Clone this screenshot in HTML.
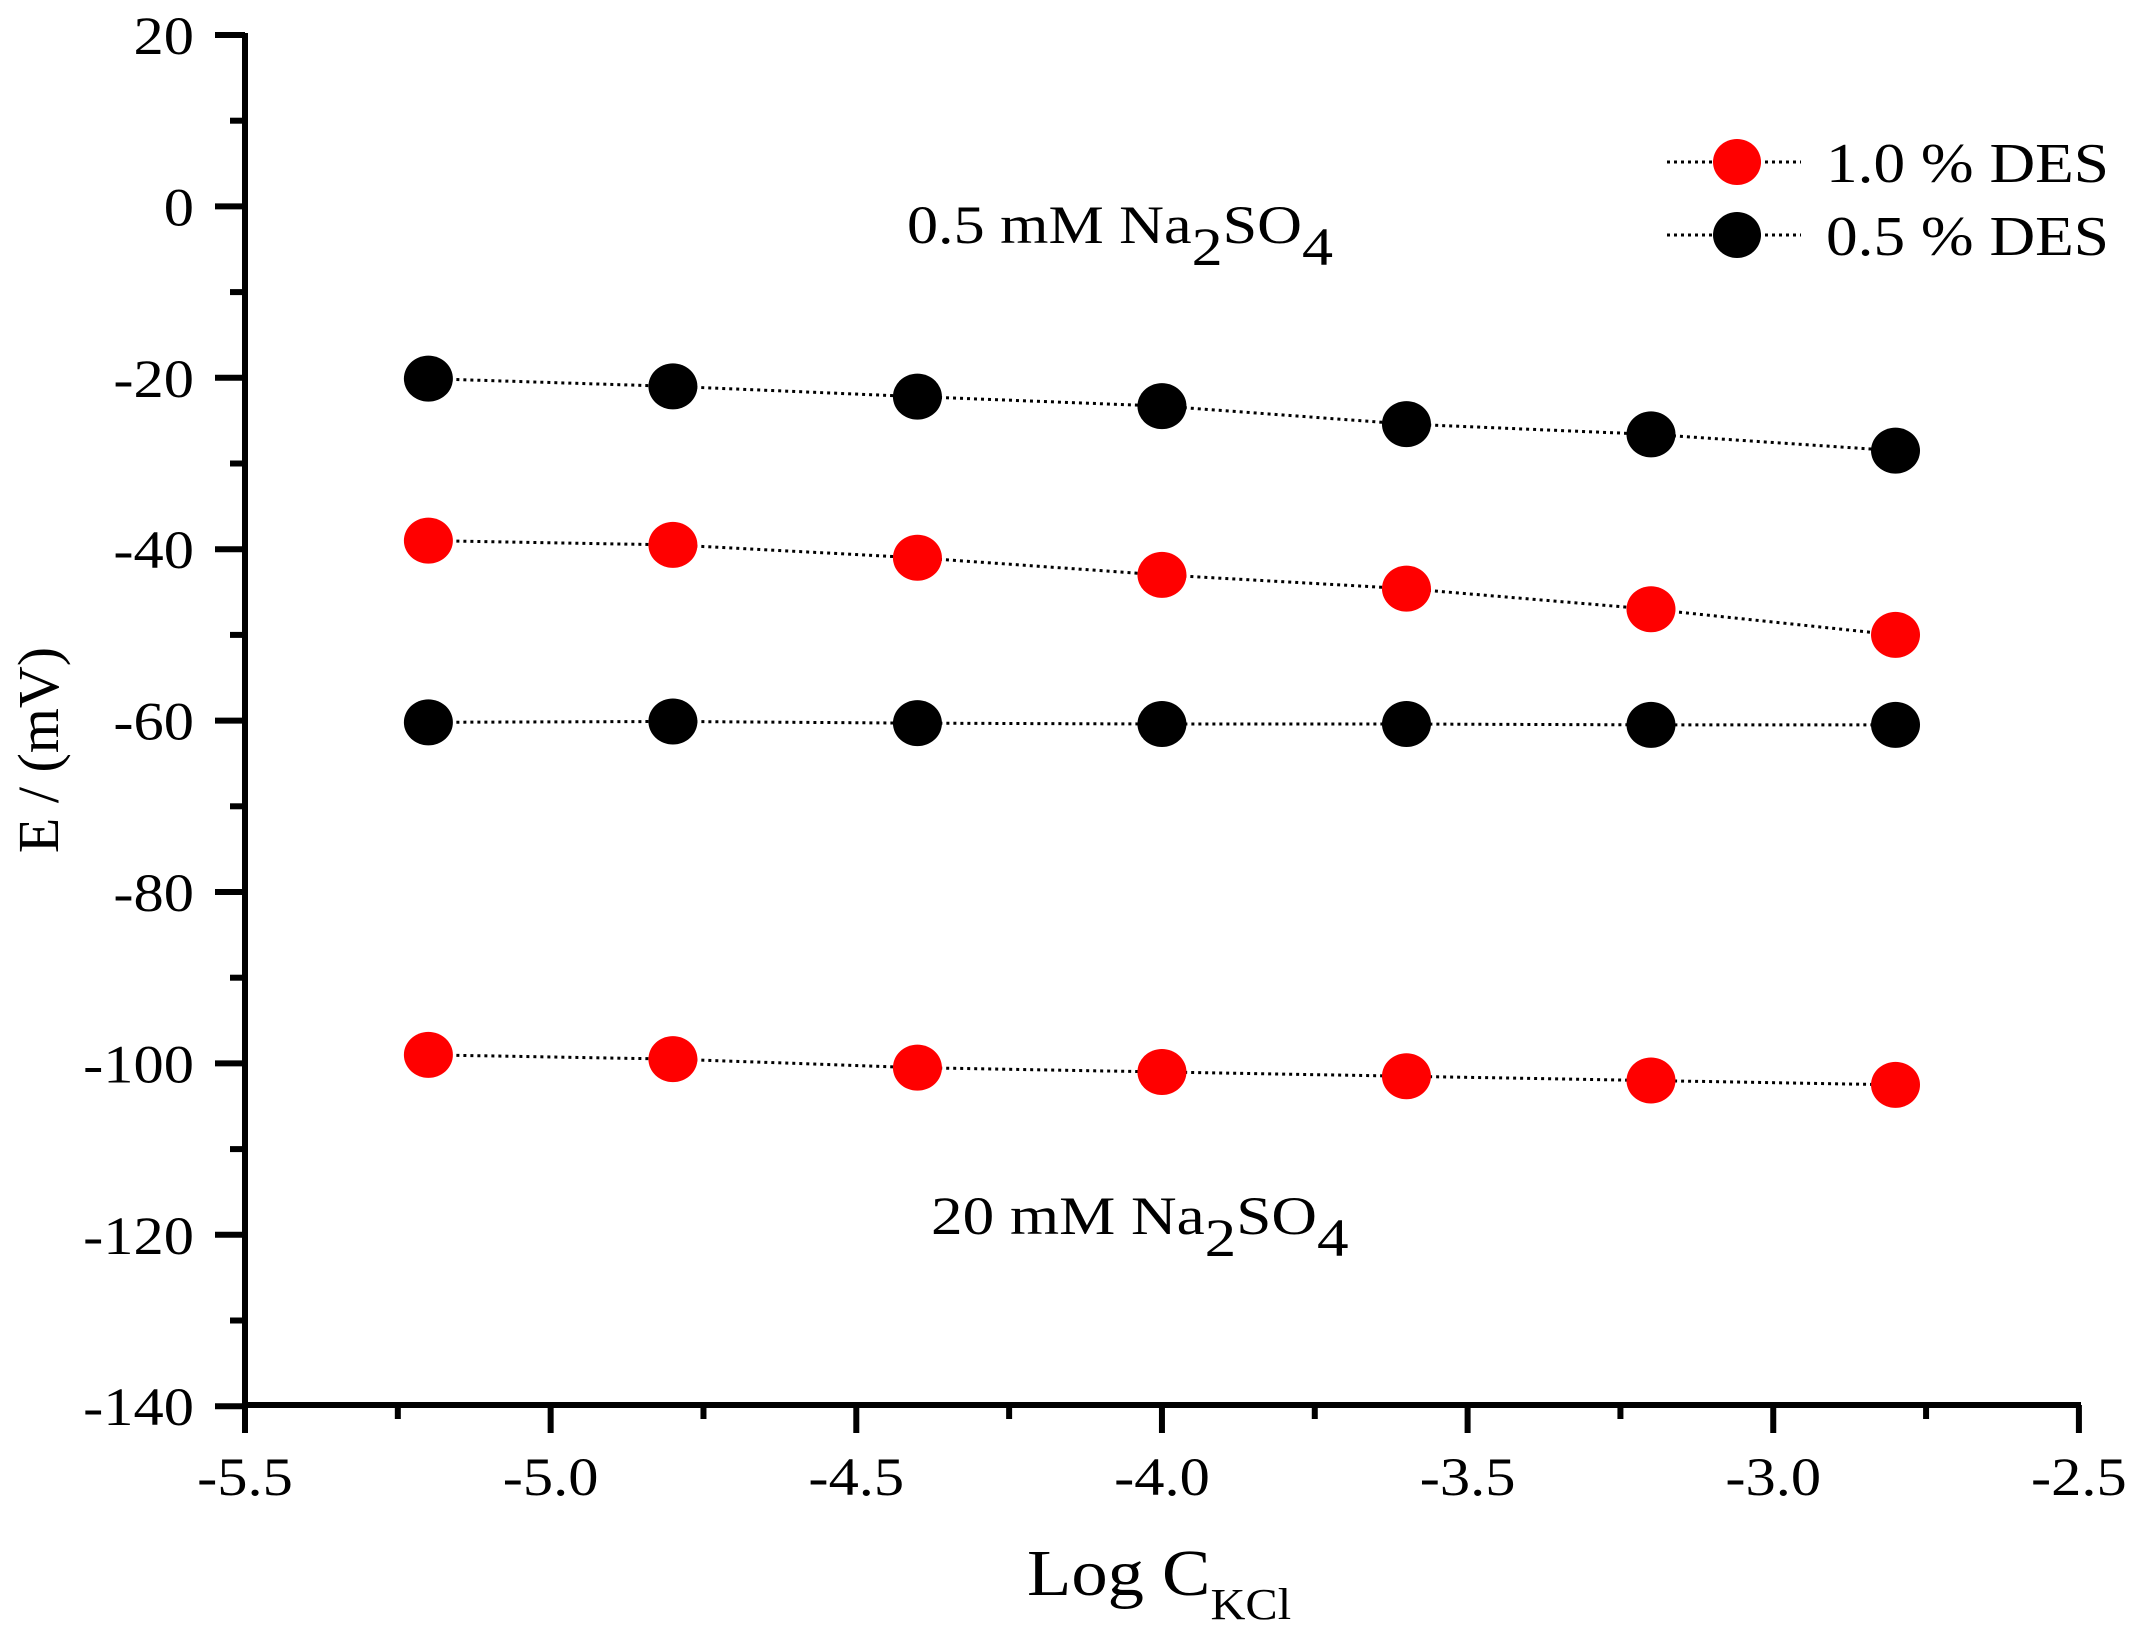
<!DOCTYPE html>
<html><head><meta charset="utf-8"><style>html,body{margin:0;padding:0;background:#fff}svg{display:block}text{font-family:"Liberation Serif",serif}</style></head>
<body>
<div style="position:relative;width:2138px;height:1636px">
<svg id="m" width="2138" height="1636" viewBox="0 0 2138 1636" xmlns="http://www.w3.org/2000/svg" style="position:absolute;left:0;top:0">
<g transform="translate(907,243) scale(1.15,1)"><text x="0" y="0" font-size="54" style="font-family:'Liberation Serif',serif">0.5 mM Na<tspan dy="22">2</tspan><tspan dy="-22">SO</tspan><tspan dy="22">4</tspan></text></g>
<g transform="translate(931,1234) scale(1.17,1)"><text x="0" y="0" font-size="54" style="font-family:'Liberation Serif',serif">20 mM Na<tspan dy="22">2</tspan><tspan dy="-22">SO</tspan><tspan dy="22">4</tspan></text></g>
<g transform="translate(1027,1595) scale(1.1,1)"><text x="0" y="0" font-size="66" style="font-family:'Liberation Serif',serif">Log C<tspan font-size="44" dy="24">KCl</tspan></text></g>
<text transform="translate(58,750) rotate(-90)" text-anchor="middle" font-size="58" style="font-family:'Liberation Serif',serif">E / (mV)</text>
</svg>
</div>
<script>
var s=document.getElementById('m'),ns='http://www.w3.org/2000/svg';
function X(v){return 245+(v+5.5)*611.3}
function Y(v){return 35+(20-v)*8.57}
function el(t,a,txt,p){var e=document.createElementNS(ns,t);for(var k in a)e.setAttribute(k,a[k]);if(txt!=null)e.textContent=txt;(p||s).appendChild(e);return e}
function txt(x,y,str,size,anchor,sx){var g=el('g',{transform:'translate('+x+','+y+') scale('+sx+',1)'});el('text',{x:0,y:0,'font-size':size,'text-anchor':anchor,style:"font-family:'Liberation Serif',serif",fill:'#000'},str,g);}
el('line',{x1:245,y1:33,x2:245,y2:1408,stroke:'#000','stroke-width':6});
el('line',{x1:242,y1:1405,x2:2081,y2:1405,stroke:'#000','stroke-width':6});
for(var v=20;v>=-140;v-=10){var y=Y(v);var maj=(v%20===0);
 el('line',{x1:maj?215:230,y1:y,x2:245,y2:y,stroke:'#000','stroke-width':6});
 if(maj)txt(194,y+19,String(v),54,'end',1.12);}
for(var i=0;i<=12;i++){var v=-5.5+i*0.25;var x=X(v);var maj=(i%2===0);
 el('line',{x1:x,y1:1405,x2:x,y2:maj?1433:1419,stroke:'#000','stroke-width':6});
 if(maj)txt(x,1495,v.toFixed(1),54,'middle',1.12);}
var xs=[-5.2,-4.8,-4.4,-4.0,-3.6,-3.2,-2.8];
var series=[
 {c:'#000',d:[-20.1,-21,-22.2,-23.3,-25.4,-26.6,-28.5]},
 {c:'#ff0000',d:[-39,-39.5,-41,-43,-44.6,-47,-50]},
 {c:'#000',d:[-60.2,-60.1,-60.3,-60.4,-60.4,-60.5,-60.5]},
 {c:'#ff0000',d:[-99,-99.5,-100.5,-101,-101.5,-102,-102.5]}];
series.forEach(function(se){var p=se.d.map(function(v,i){return X(xs[i])+','+Y(v)}).join(' ');
 el('polyline',{points:p,fill:'none',stroke:'#000','stroke-width':3,'stroke-dasharray':'3,4'});
 se.d.forEach(function(v,i){el('ellipse',{cx:X(xs[i]),cy:Y(v),rx:24.5,ry:23,fill:se.c})});});
[[162,'#ff0000','1.0 % DES'],[235,'#000','0.5 % DES']].forEach(function(l){
 el('line',{x1:1667,y1:l[0],x2:1801,y2:l[0],stroke:'#000','stroke-width':3,'stroke-dasharray':'3,4'});
 el('ellipse',{cx:1737,cy:l[0],rx:24,ry:23,fill:l[1]});
 txt(1826,l[0]+20,l[2],56,'start',1.13);});
</script>
</body></html>
